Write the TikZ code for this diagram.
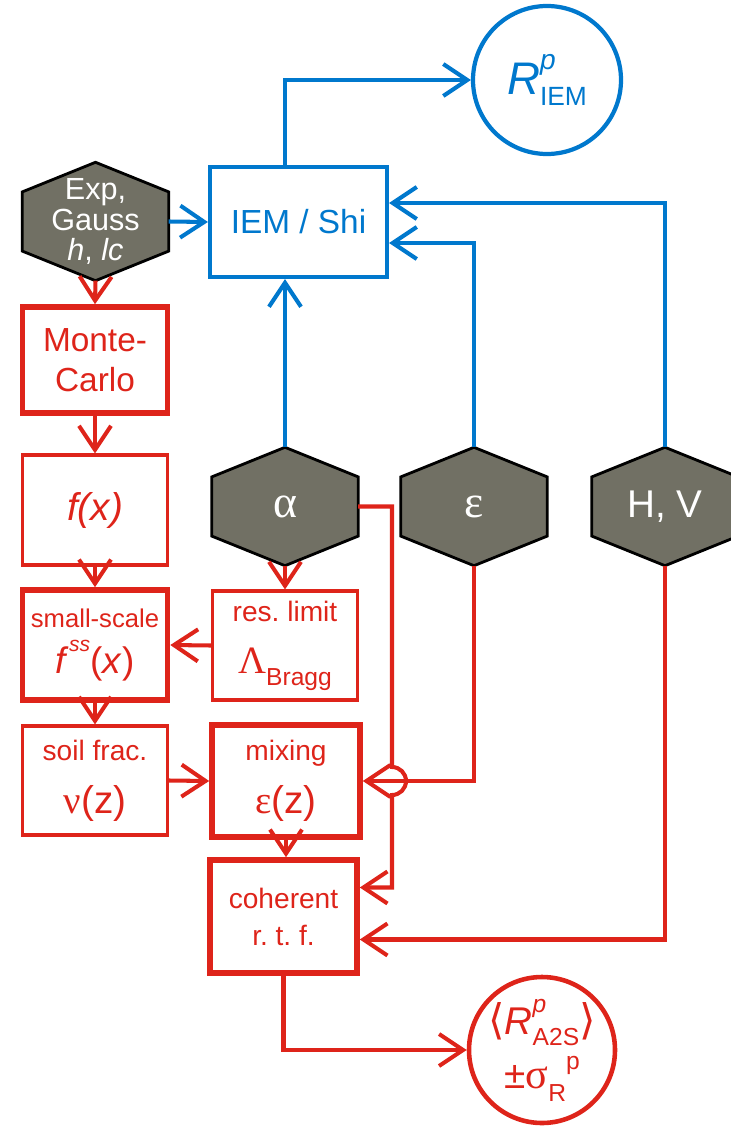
\documentclass[tikz,border=0pt]{standalone}
\usepackage{fontspec}
\setmainfont{Liberation Sans}
\newfontfamily\grk{Liberation Serif}
\newfontfamily\dvs{DejaVu Sans}
\usetikzlibrary{arrows.meta,calc,backgrounds}
\definecolor{rd}{RGB}{222,36,26}
\definecolor{bl}{RGB}{0,120,205}
\definecolor{hexgray}{RGB}{113,112,100}
\newcommand{\fs}[1]{\fontsize{#1}{#1}\selectfont}
\frenchspacing
\tikzset{rbox/.style={draw=rd,line width=0.9pt,text=rd,align=center,minimum width=1.45cm,minimum height=1.1cm,inner sep=1pt},
  rboxb/.style={rbox,line width=1.6pt},
  hexa/.style={minimum width=1.45cm,minimum height=1.17cm,inner sep=0pt,text=white,align=center},
  rarr/.style={draw=rd,line width=1.15pt,-{Straight Barb[length=2.4mm,width=3.2mm]}},
  barr/.style={rarr,draw=bl}}

\begin{document}
\begin{tikzpicture}
\useasboundingbox (0,0) rectangle (7.31,-11.29);
% parameters (grey hexagons)
\node[hexa,font={\fontsize{8.7}{8.7}\selectfont}] (expg) at (0.955,-2.215) {Exp,\\Gauss\\\textit{h}, \textit{lc}};
\node[hexa] (alpha) at (2.85,-5.065) {\grk\fs{13}α};
\node[hexa] (eps) at (4.74,-5.065) {\grk\fs{13}ε};
\node[hexa] (hv) at (6.65,-5.065) {\fs{11}H, V};
\begin{scope}[on background layer]
\foreach \h in {expg,alpha,eps,hv}
  \draw[fill=hexgray,line width=0.8pt] (\h.north) -- ($(\h.north east)!.25!(\h.south east)$) -- ($(\h.north east)!.75!(\h.south east)$) -- (\h.south) -- ($(\h.north west)!.75!(\h.south west)$) -- ($(\h.north west)!.25!(\h.south west)$) -- cycle;
\end{scope}
% IEM branch
\node[draw=bl,line width=1.2pt,text=bl,minimum width=1.77cm,minimum height=1.1cm] (iem) at (2.985,-2.22) {\fs{9.5}IEM / Shi};
\node[circle,draw=bl,line width=1.2pt,text=bl,minimum size=1.48cm,inner sep=0pt] (riem) at (5.47,-0.80)
  {{\fs{13}\itshape R}\rlap{\raisebox{1.3ex}{\fs{8}\itshape p}}\raisebox{-0.6ex}{\fs{7.5}IEM}};
% A2S branch
\node[rboxb,minimum height=1.06cm,font={\fontsize{9.5}{11.3}\selectfont}] (mc) at (0.95,-3.60) {Monte-\\Carlo};
\node[rbox] (fx) at (0.95,-5.10) {\fs{11}\itshape f(x)};
\node[rboxb] (ssc) at (0.95,-6.45) {\fs{7.3}small-scale\\[1pt]\fs{10.5}\textit{f}\raisebox{1.1ex}{\fs{6}\textit{ss}}(\textit{x})};
\node[rbox,minimum height=1.09cm] (res) at (2.85,-6.455) {\fs{8}res. limit\\[3pt]{\grk\fs{11}Λ}\raisebox{-0.6ex}{\fs{7}Bragg}};
\node[rbox,minimum height=1.09cm] (soil) at (0.95,-7.805) {\fs{8}soil frac.\\[3pt]\fs{11}{\grk ν}(z)};
\node[rboxb,minimum width=1.48cm,minimum height=1.12cm] (mix) at (2.86,-7.81) {\fs{8}mixing\\[3pt]\fs{11}{\grk ε}(z)};
\node[rboxb,minimum width=1.47cm,minimum height=1.13cm,font={\fontsize{8}{10.5}\selectfont}] (coh) at (2.835,-9.165) {coherent\\r. t. f.};
\node[circle,draw=rd,line width=1.3pt,text=rd,minimum size=1.46cm,inner sep=-3pt,align=center] (ra2s) at (5.42,-10.50)
  {{\dvs\fs{12}⟨}{\fs{11}\itshape R}\rlap{\raisebox{1.2ex}{\fs{7}\itshape p}}\raisebox{-0.6ex}{\fs{7}A2S}{\dvs\fs{12}⟩}\\[2pt]
   {\fs{11}±}{\grk\fs{12}σ}\raisebox{-0.7ex}{\fs{7}R}\raisebox{1.0ex}{\fs{7}p}};
% blue connectors
\draw[barr] (expg.east) -- (iem.west);
\draw[barr] (alpha.north) -- (alpha.north |- iem.south);
\draw[barr] (eps.north) |- ([yshift=-2.1mm]iem.east);
\draw[barr] (hv.north) |- ([yshift=1.9mm]iem.east);
\draw[barr] (alpha.north |- iem.north) |- (riem.west);
% red connectors
\draw[rarr] (expg.south) -- (mc.north);
\draw[rarr] (mc.south) -- (fx.north);
\draw[rarr] (fx.south) -- (ssc.north);
\draw[rarr] (alpha.south) -- (res.north);
\draw[rarr] (res.west) -- (ssc.east);
\draw[rarr] (ssc.south) -- (soil.north);
\draw[rarr] (soil.east) -- (mix.west);
\draw[rarr] (mix.south) -- (mix.south |- coh.north);
\draw[rarr] (eps.south) |- (mix.east);
\coordinate (xr) at (3.92,0);
\coordinate (hop) at (xr |- mix.east);
\draw[rarr] (alpha.east) -| ([yshift=1.4mm]hop) arc[start angle=90,end angle=-90,radius=1.4mm] |- ([yshift=2.9mm]coh.east);
\draw[rarr] (hv.south) |- ([yshift=-2.3mm]coh.east);
\draw[rarr] (coh.south) |- (ra2s.west);
\end{tikzpicture}
\end{document}
